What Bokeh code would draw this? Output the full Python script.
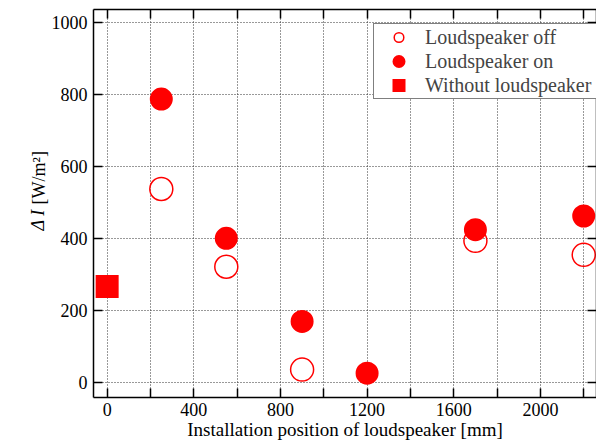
import numpy as np
from bokeh.plotting import figure
from bokeh.models import (Range1d, LinearAxis, FixedTicker, Label, Legend,
                          LegendItem)
from bokeh.embed import file_html
from bokeh.resources import INLINE

# ---- data ----
off_positions = [250, 550, 900, 1700, 2200]
off_values = [537, 321, 35, 393, 354]
on_positions = [250, 550, 900, 1200, 1700, 2200]
on_values = [787, 400, 169, 25, 424, 462]
without_position = [0]
without_value = [266]

x_ticks = [0, 200, 400, 600, 800, 1000, 1200, 1400, 1600, 1800, 2000, 2200]
x_tick_labels = ["0", "", "400", "", "800", "", "1200", "", "1600", "", "2000", ""]
y_ticks = [0, 200, 400, 600, 800, 1000]

series_labels = ["Loudspeaker off", "Loudspeaker on", "Without loudspeaker"]
x_title = "Installation position of loudspeaker [mm]"
y_title_symbol = "Δ I"
y_title_unit = "[W/m²]"

FONT = "'Liberation Serif', serif"
RED = "#ff0000"

p = figure(width=596, height=443,
           x_range=Range1d(-63, 2259), y_range=Range1d(-42.5, 1036),
           output_backend="svg", toolbar_location=None,
           min_border_left=93, min_border_right=0,
           min_border_top=9, min_border_bottom=46)
p.background_fill_color = "white"
p.border_fill_color = "white"
p.outline_line_color = None

bottom = p.below[0]
left = p.left[0]
top = LinearAxis()
right = LinearAxis()
p.add_layout(top, "above")
p.add_layout(right, "right")

xt = FixedTicker(ticks=x_ticks)
yt = FixedTicker(ticks=y_ticks)
bottom.ticker = xt
top.ticker = xt
left.ticker = yt
right.ticker = yt
p.xgrid.ticker = xt
p.ygrid.ticker = yt

for ax in [bottom, left, top, right]:
    ax.axis_line_color = "black"
    ax.axis_line_width = 1.5
    ax.major_tick_in = 9
    ax.major_tick_out = 0
    ax.major_tick_line_color = "black"
    ax.major_tick_line_width = 1.5
    ax.minor_tick_line_color = None
    ax.major_label_text_font = FONT
    ax.major_label_text_font_size = "18px"
    ax.major_label_text_color = "black"
    ax.major_label_standoff = 6

for ax in [top, right]:
    ax.major_label_text_font_size = "1px"
    ax.major_label_text_color = None
    ax.major_label_standoff = 0

bottom.major_label_standoff = 5
bottom.major_label_overrides = {t: l for t, l in zip(x_ticks, x_tick_labels)}
bottom.axis_label = x_title
bottom.axis_label_text_font = FONT
bottom.axis_label_text_font_size = "19px"
bottom.axis_label_text_font_style = "normal"
bottom.axis_label_text_color = "black"
bottom.axis_label_standoff = 0

for g in [p.xgrid[0], p.ygrid[0]]:
    g.grid_line_color = "#333333"
    g.grid_line_width = 1
    g.grid_line_dash = "1 2"

off_r = p.scatter(off_positions, off_values, marker="circle", size=23,
                  fill_color=None, line_color=RED, line_width=1.5)
on_r = p.scatter(on_positions, on_values, marker="circle", size=19.6,
                 fill_color=RED, line_color=RED, line_width=3.4)
sq_r = p.scatter(without_position, without_value, marker="square", size=19.6,
                 fill_color=RED, line_color=RED, line_width=3.4,
                 line_join="miter")

legend = Legend(items=[LegendItem(label=series_labels[0], renderers=[off_r]),
                       LegendItem(label=series_labels[1], renderers=[on_r]),
                       LegendItem(label=series_labels[2], renderers=[sq_r])],
                location=(280, 298), padding=1, spacing=0,
                glyph_height=24, glyph_width=47, label_standoff=3,
                label_width=170, label_height=24,
                label_text_font=FONT, label_text_font_size="20px",
                border_line_color="black", border_line_width=1.5,
                background_fill_color="white", background_fill_alpha=1.0)
p.add_layout(legend)

# y axis title pieces (rotated), in the left side panel
ang = np.pi / 2
def ylab(text, x, y, size="18px", style="normal"):
    p.add_layout(Label(x=x, y=y, x_units="screen", y_units="screen",
                       text=text, angle=ang, text_align="left",
                       text_baseline="alphabetic", text_font=FONT,
                       text_font_style=style, text_font_size=size,
                       text_color="black"), "left")

ylab(y_title_symbol, 9, 167, style="italic")
ylab(y_title_unit, 30, 193)

open("out.html", "w").write(file_html(p, INLINE))
